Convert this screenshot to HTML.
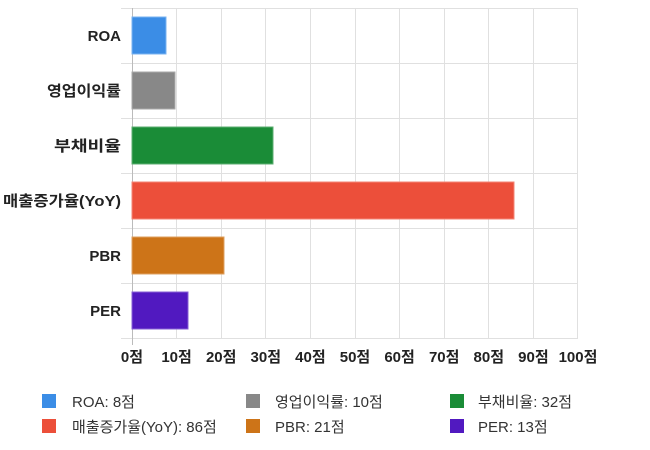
<!DOCTYPE html>
<html><head><meta charset="utf-8"><style>
body{margin:0;background:#fff;}
svg{display:block;font-family:"Liberation Sans","Noto Sans CJK KR",sans-serif;}
</style></head><body>
<svg width="650" height="450" xmlns="http://www.w3.org/2000/svg">
<g stroke="#e0e0e0" stroke-width="1">
<line x1="121" y1="8.5" x2="578" y2="8.5"/>
<line x1="121" y1="63.5" x2="578" y2="63.5"/>
<line x1="121" y1="118.5" x2="578" y2="118.5"/>
<line x1="121" y1="173.5" x2="578" y2="173.5"/>
<line x1="121" y1="228.5" x2="578" y2="228.5"/>
<line x1="121" y1="283.5" x2="578" y2="283.5"/>
<line x1="121" y1="338.5" x2="578" y2="338.5"/>
<line x1="176.5" y1="8" x2="176.5" y2="338"/>
<line x1="221.5" y1="8" x2="221.5" y2="338"/>
<line x1="265.5" y1="8" x2="265.5" y2="338"/>
<line x1="310.5" y1="8" x2="310.5" y2="338"/>
<line x1="355.5" y1="8" x2="355.5" y2="338"/>
<line x1="399.5" y1="8" x2="399.5" y2="338"/>
<line x1="444.5" y1="8" x2="444.5" y2="338"/>
<line x1="488.5" y1="8" x2="488.5" y2="338"/>
<line x1="533.5" y1="8" x2="533.5" y2="338"/>
<line x1="577.5" y1="8" x2="577.5" y2="338"/>
</g>
<line x1="132.5" y1="8" x2="132.5" y2="345" stroke="#bbb"/>
<g stroke-width="1">
<rect x="132" y="17" width="34" height="37" fill="#3b8de6" stroke="#7ab3f0"/>
<rect x="132" y="72" width="43" height="37" fill="#888" stroke="#aaa"/>
<rect x="132" y="127" width="141" height="37" fill="#1a8c37" stroke="#5cae70"/>
<rect x="132" y="182" width="382" height="37" fill="#ec4f3a" stroke="#f38676"/>
<rect x="132" y="237" width="92" height="37" fill="#cd7418" stroke="#dea060"/>
<rect x="132" y="292" width="56" height="37" fill="#5119c0" stroke="#8660d4"/>
</g>
<g font-size="15" font-weight="bold" fill="#222" text-anchor="end">
<text x="121" y="41">ROA</text>
<text x="121" y="96" textLength="74" lengthAdjust="spacingAndGlyphs">영업이익률</text>
<text x="121" y="151" textLength="67" lengthAdjust="spacingAndGlyphs">부채비율</text>
<text x="121" y="206" textLength="118" lengthAdjust="spacingAndGlyphs">매출증가율(YoY)</text>
<text x="121" y="261">PBR</text>
<text x="121" y="316">PER</text>
</g>
<g font-size="15" font-weight="bold" fill="#222" text-anchor="middle">
<text x="132" y="362">0점</text>
<text x="176.6" y="362">10점</text>
<text x="221.2" y="362">20점</text>
<text x="265.8" y="362">30점</text>
<text x="310.4" y="362">40점</text>
<text x="355" y="362">50점</text>
<text x="399.6" y="362">60점</text>
<text x="444.2" y="362">70점</text>
<text x="488.8" y="362">80점</text>
<text x="533.4" y="362">90점</text>
<text x="578" y="362">100점</text>
</g>
<rect x="42" y="394" width="14" height="14" fill="#3b8de6"/>
<rect x="42" y="419" width="14" height="14" fill="#ec4f3a"/>
<rect x="246" y="394" width="14" height="14" fill="#888"/>
<rect x="246" y="419" width="14" height="14" fill="#cd7418"/>
<rect x="450" y="394" width="14" height="14" fill="#1a8c37"/>
<rect x="450" y="419" width="14" height="14" fill="#5119c0"/>
<g font-size="15" fill="#333">
<text x="72" y="407">ROA: 8점</text>
<text x="72" y="432">매출증가율(YoY): 86점</text>
<text x="275" y="407">영업이익률: 10점</text>
<text x="275" y="432">PBR: 21점</text>
<text x="478" y="407">부채비율: 32점</text>
<text x="478" y="432">PER: 13점</text>
</g>
</svg>
</body></html>
